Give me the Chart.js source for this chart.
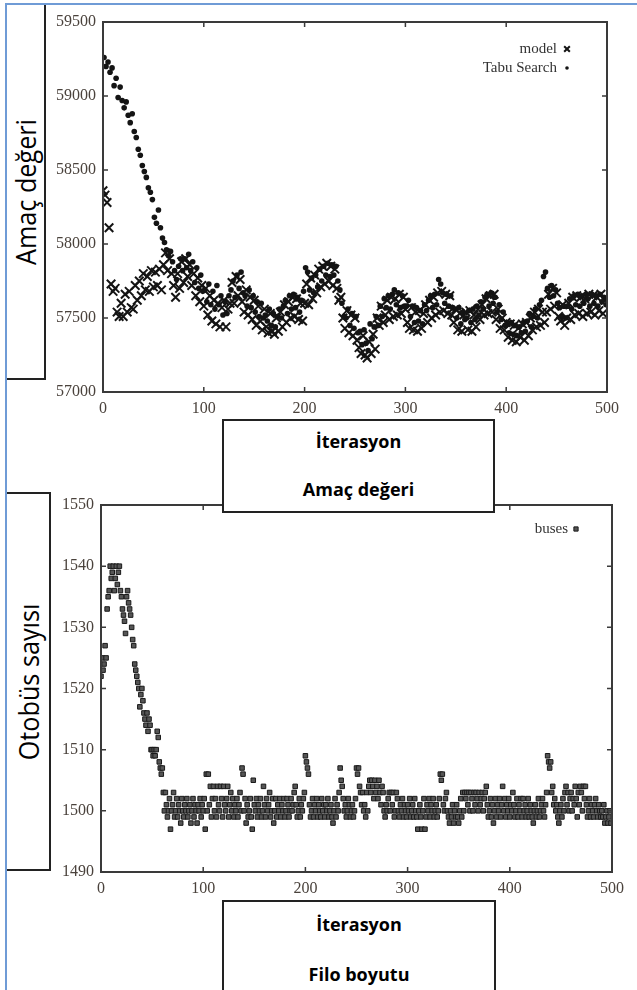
<!DOCTYPE html>
<html>
<head>
<meta charset="utf-8">
<script src="https://cdn.jsdelivr.net/npm/chart.js@4.4.1/dist/chart.umd.min.js"></script>
<style>
  html, body { margin: 0; padding: 0; background: #fff; }
  body { width: 637px; height: 990px; position: relative; overflow: hidden; }
  canvas { position: absolute; left: 0; }
  #objChart { top: 0; }
  #fleetChart { top: 480px; }
  .page-edge { position: absolute; left: 5px; top: 3px; width: 700px; height: 1100px;
    border-left: 2px solid #6f9bd6; border-top: 2px solid #6f9bd6; z-index: 5; pointer-events: none; }
  .box { position: absolute; background: #fff; border: 2px solid #222; box-sizing: border-box;
    z-index: 3; font-family: "Open Sans", sans-serif; color: #000; }
  .ybox { display: flex; align-items: center; justify-content: center; }
  .ybox span { transform: rotate(-90deg) scaleX(0.9); white-space: nowrap; font-size: 28px; }
  .xbox div { position: absolute; left: 0; right: 0; text-align: center; font-weight: 700;
    font-size: 18px; line-height: 24px; }
</style>
</head>
<body>
<canvas id="objChart" width="637" height="420"></canvas>
<canvas id="fleetChart" width="637" height="420"></canvas>

<div class="box ybox" style="left:5px; top:3px; width:41px; height:377px;"><span>Amaç değeri</span></div>
<div class="box xbox" style="left:222px; top:419px; width:273px; height:94px;">
  <div style="top:8px;">İterasyon</div>
  <div style="top:56px;">Amaç değeri</div>
</div>
<div class="box ybox" style="left:5px; top:492px; width:46px; height:379px;"><span>Otobüs sayısı</span></div>
<div class="box xbox" style="left:222px; top:900px; width:274px; height:110px;">
  <div style="top:10px;">İterasyon</div>
  <div style="top:60px;">Filo boyutu</div>
</div>
<div class="page-edge"></div>

<script>
// iteration axis, shared by both plots
const iterTicks = [0, 100, 200, 300, 400, 500];
const objTicks = [57000, 57500, 58000, 58500, 59000, 59500];
const busTicks = [1490, 1500, 1510, 1520, 1530, 1540, 1550];

// objective value, model (x), read at iterations 0, 2, 4 ... 498 (one row per 20 iterations)
const modelValues = [
  58360, 58330, 58280, 58110, 57730, 57680, 57700, 57540, 57510, 57600,
  57510, 57660, 57540, 57680, 57570, 57560, 57720, 57620, 57750, 57650,
  57800, 57690, 57780, 57680, 57820, 57710, 57810, 57720, 57830, 57690,
  57860, 57940, 57820, 57900, 57800, 57720, 57640, 57800, 57700, 57880,
  57740, 57900, 57780, 57860, 57720, 57800, 57650, 57770, 57610, 57720,
  57580, 57700, 57520, 57650, 57480, 57620, 57460, 57600, 57440, 57570,
  57620, 57440, 57560, 57600, 57740, 57600, 57780, 57650, 57760, 57610,
  57540, 57690, 57520, 57640, 57490, 57620, 57450, 57580, 57480, 57420,
  57560, 57440, 57400, 57530, 57410, 57390, 57500, 57410, 57540, 57440,
  57590, 57470, 57610, 57500, 57640, 57510, 57630, 57490, 57600, 57480,
  57600, 57730, 57590, 57770, 57630, 57790, 57670, 57830, 57710, 57850,
  57730, 57870, 57750, 57850, 57720, 57830, 57700, 57620, 57640, 57500,
  57430, 57550, 57400, 57520, 57380, 57500, 57350, 57300, 57260, 57380,
  57250, 57230, 57340, 57260, 57390, 57290, 57500, 57450, 57580, 57470,
  57520, 57620, 57490, 57640, 57510, 57630, 57520, 57660, 57530, 57640,
  57560, 57470, 57430, 57570, 57420, 57540, 57410, 57550, 57430, 57530,
  57590, 57470, 57620, 57500, 57640, 57520, 57670, 57540, 57680, 57550,
  57660, 57530, 57650, 57520, 57470, 57560, 57420, 57530, 57410, 57520,
  57540, 57420, 57550, 57410, 57520, 57440, 57560, 57490, 57590, 57520,
  57630, 57530, 57650, 57540, 57660, 57490, 57560, 57430, 57500, 57420,
  57470, 57370, 57460, 57350, 57450, 57340, 57430, 57370, 57460, 57350,
  57470, 57380, 57500, 57420, 57540, 57440, 57560, 57450, 57540, 57470,
  57540, 57660, 57560, 57700, 57580, 57670, 57510, 57480, 57590, 57450,
  57500, 57600, 57490, 57640, 57520, 57650, 57530, 57640, 57510, 57630,
  57530, 57660, 57540, 57650, 57520, 57640, 57550, 57660, 57530, 57620
];

// objective value, Tabu Search (dots), read at iterations 1, 3, 5 ... 499 (one row per 20 iterations)
const tabuValues = [
  59260, 59200, 59230, 59160, 59190, 59070, 59120, 58990, 59060, 58970,
  58920, 58960, 58870, 58820, 58880, 58760, 58720, 58640, 58600, 58530,
  58490, 58450, 58380, 58350, 58300, 58180, 58140, 58230, 58110, 58040,
  58010, 57960, 57920, 57950, 57880, 57820, 57760, 57850, 57900, 57820,
  57900, 57840, 57930, 57820, 57880, 57740, 57840, 57700, 57790, 57680,
  57690, 57610, 57730, 57590, 57680, 57560, 57720, 57590, 57650, 57520,
  57610, 57530, 57650, 57690, 57750, 57640, 57790, 57700, 57810, 57670,
  57650, 57580, 57690, 57570, 57650, 57540, 57610, 57510, 57600, 57500,
  57520, 57480, 57560, 57450, 57530, 57440, 57510, 57560, 57500, 57580,
  57620, 57530, 57650, 57560, 57660, 57570, 57640, 57540, 57620, 57680,
  57840, 57810, 57690, 57770, 57670, 57790, 57710, 57830, 57750, 57850,
  57790, 57870, 57780, 57860, 57790, 57850, 57750, 57690, 57600, 57510,
  57500, 57560, 57450, 57530, 57430, 57510, 57400, 57410, 57320, 57420,
  57330, 57280, 57460, 57360, 57440, 57510, 57450, 57580, 57510, 57630,
  57570, 57650, 57560, 57660, 57690, 57590, 57670, 57570, 57650, 57580,
  57580, 57620, 57510, 57580, 57470, 57570, 57480, 57550, 57460, 57590,
  57550, 57620, 57650, 57570, 57660, 57590, 57760, 57730, 57670, 57600,
  57660, 57580, 57650, 57570, 57560, 57500, 57570, 57460, 57540, 57490,
  57500, 57550, 57470, 57560, 57490, 57580, 57520, 57610, 57560, 57640,
  57660, 57580, 57670, 57600, 57640, 57540, 57590, 57490, 57540, 57450,
  57460, 57400, 57470, 57390, 57450, 57380, 57440, 57400, 57470, 57410,
  57480, 57530, 57440, 57510, 57560, 57500, 57590, 57620, 57780, 57810,
  57700, 57640, 57720, 57650, 57690, 57600, 57570, 57510, 57580, 57500,
  57580, 57630, 57560, 57650, 57590, 57660, 57580, 57650, 57600, 57660,
  57630, 57580, 57660, 57600, 57650, 57580, 57660, 57610, 57640, 57590
];

// fleet size (buses), read at every iteration 0 ... 499, one row per 10 iterations
const busValues = [
  1522, 1525, 1523, 1524, 1527, 1525, 1533, 1535, 1536, 1540,
  1538, 1539, 1540, 1536, 1538, 1540, 1537, 1539, 1540, 1536,
  1535, 1533, 1532, 1531, 1529, 1535, 1536, 1534, 1533, 1532,
  1530, 1528, 1527, 1524, 1523, 1522, 1521, 1520, 1517, 1519,
  1520, 1518, 1516, 1515, 1514, 1516, 1513, 1515, 1514, 1510,
  1510, 1509, 1510, 1509, 1510, 1513, 1512, 1508, 1507, 1506,
  1507, 1503, 1500, 1503, 1501, 1499, 1500, 1502, 1497, 1500,
  1501, 1503, 1499, 1500, 1502, 1499, 1501, 1500, 1498, 1502,
  1500, 1499, 1501, 1500, 1502, 1499, 1500, 1501, 1498, 1500,
  1502, 1499, 1501, 1500, 1498, 1501, 1500, 1502, 1499, 1501,
  1500, 1502, 1497, 1506, 1500, 1506, 1501, 1504, 1499, 1502,
  1504, 1500, 1502, 1499, 1504, 1501, 1500, 1504, 1502, 1499,
  1504, 1501, 1500, 1502, 1504, 1499, 1501, 1503, 1500, 1502,
  1499, 1501, 1500, 1502, 1499, 1501, 1503, 1500, 1507, 1506,
  1500, 1502, 1498, 1501, 1499, 1500, 1502, 1499, 1497, 1505,
  1501, 1500, 1502, 1499, 1501, 1500, 1502, 1499, 1500, 1504,
  1501, 1499, 1502, 1500, 1501, 1503, 1499, 1500, 1502, 1498,
  1500, 1502, 1499, 1501, 1500, 1502, 1499, 1501, 1500, 1502,
  1499, 1500, 1502, 1501, 1499, 1500, 1502, 1500, 1501, 1503,
  1504, 1501, 1499, 1500, 1502, 1499, 1501, 1500, 1502, 1503,
  1509, 1508, 1507, 1506, 1501, 1499, 1500, 1502, 1499, 1501,
  1500, 1502, 1499, 1501, 1500, 1499, 1502, 1500, 1501, 1499,
  1501, 1500, 1502, 1499, 1500, 1501, 1499, 1498, 1500, 1502,
  1499, 1501, 1500, 1503, 1507, 1505, 1504, 1502, 1500, 1501,
  1499, 1500, 1502, 1501, 1499, 1500, 1501, 1499, 1500, 1502,
  1507, 1506, 1507, 1504, 1503, 1501, 1503, 1500, 1501, 1499,
  1503, 1500, 1504, 1505, 1503, 1505, 1504, 1502, 1505, 1503,
  1504, 1502, 1505, 1503, 1501, 1504, 1503, 1500, 1499, 1501,
  1500, 1502, 1503, 1500, 1503, 1501, 1503, 1499, 1500, 1503,
  1502, 1500, 1499, 1501, 1500, 1502, 1499, 1501, 1500, 1499,
  1501, 1500, 1502, 1499, 1500, 1501, 1499, 1502, 1500, 1499,
  1497, 1500, 1501, 1499, 1497, 1500, 1502, 1497, 1499, 1501,
  1500, 1502, 1499, 1501, 1500, 1502, 1499, 1500, 1501, 1499,
  1500, 1502, 1506, 1505, 1506, 1501, 1500, 1502, 1503, 1500,
  1499, 1498, 1500, 1499, 1501, 1498, 1500, 1499, 1501, 1499,
  1498, 1500, 1502, 1499, 1503, 1500, 1503, 1502, 1503, 1501,
  1503, 1500, 1503, 1502, 1500, 1503, 1501, 1503, 1502, 1500,
  1503, 1501, 1502, 1503, 1500, 1502, 1503, 1504, 1501, 1499,
  1500, 1502, 1499, 1501, 1498, 1500, 1502, 1499, 1501, 1500,
  1502, 1499, 1501, 1504, 1500, 1502, 1499, 1501, 1500, 1502,
  1499, 1501, 1500, 1503, 1501, 1499, 1500, 1502, 1499, 1501,
  1500, 1502, 1499, 1502, 1500, 1501, 1499, 1500, 1502, 1499,
  1501, 1500, 1499, 1498, 1500, 1501, 1499, 1500, 1502, 1499,
  1500, 1501, 1502, 1500, 1499, 1501, 1503, 1509, 1508, 1507,
  1508, 1503, 1504, 1501, 1502, 1500, 1501, 1499, 1498, 1500,
  1501, 1499, 1502, 1500, 1503, 1504, 1501, 1503, 1500, 1502,
  1503, 1500, 1502, 1501, 1504, 1502, 1499, 1503, 1501, 1504,
  1503, 1500, 1504, 1502, 1504, 1501, 1499, 1500, 1502, 1499,
  1501, 1500, 1499, 1501, 1502, 1500, 1499, 1501, 1500, 1499,
  1500, 1499, 1501, 1498, 1499, 1500, 1498, 1499, 1500, 1498
];

const ink = '#141414';
const tickColor = '#4a423c';
const serif = '"Liberation Serif", "Times New Roman", serif';
const tickFont = { family: serif, size: 16 };
Chart.defaults.font.family = serif;

// gnuplot look: closed frame, inward ticks on all four sides, key inside top right
const gnuplotFrame = {
  id: 'gnuplotFrame',
  afterDatasetsDraw(chart, args, opts) {
    const { ctx, chartArea: a } = chart;
    const xs = chart.scales.x, ys = chart.scales.y;
    ctx.save();
    ctx.strokeStyle = '#3a3a3a';
    ctx.lineWidth = 2;
    ctx.strokeRect(a.left, a.top, a.right - a.left, a.bottom - a.top);
    ctx.lineWidth = 1.5;
    ctx.beginPath();
    xs.ticks.forEach(t => {
      const px = xs.getPixelForValue(t.value);
      ctx.moveTo(px, a.bottom); ctx.lineTo(px, a.bottom - 5);
      ctx.moveTo(px, a.top); ctx.lineTo(px, a.top + 5);
    });
    ys.ticks.forEach(t => {
      const py = ys.getPixelForValue(t.value);
      ctx.moveTo(a.left, py); ctx.lineTo(a.left + 5, py);
      ctx.moveTo(a.right, py); ctx.lineTo(a.right - 5, py);
    });
    ctx.stroke();

    ctx.font = '15px ' + serif;
    ctx.textAlign = 'right';
    ctx.textBaseline = 'middle';
    chart.data.datasets.forEach((ds, i) => {
      const y = a.top + opts.top + i * opts.rowGap;
      ctx.fillStyle = '#333';
      ctx.fillText(ds.label, a.right - opts.textRight, y);
      ctx.fillStyle = ds.backgroundColor;
      ctx.strokeStyle = ds.borderColor;
      ctx.lineWidth = ds.borderWidth;
      Chart.helpers.drawPoint(ctx, {
        pointStyle: ds.pointStyle, radius: ds.keyRadius, borderWidth: ds.borderWidth, rotation: 0
      }, a.right - opts.markRight, y);
    });
    ctx.restore();
  }
};

function listTicks(values) {
  return scale => { scale.ticks = values.map(v => ({ value: v })); };
}

function makeChart(id, datasets, yTicks, padding, yWidth, key) {
  return new Chart(document.getElementById(id), {
    type: 'scatter',
    data: { datasets: datasets },
    options: {
      responsive: false,
      animation: false,
      events: [],
      layout: { padding: padding },
      plugins: {
        legend: { display: false },
        tooltip: { enabled: false },
        gnuplotFrame: key
      },
      scales: {
        x: {
          type: 'linear',
          min: iterTicks[0],
          max: iterTicks[iterTicks.length - 1],
          afterBuildTicks: listTicks(iterTicks),
          grid: { display: false, drawTicks: false },
          border: { display: false },
          ticks: { padding: 7, color: tickColor, font: tickFont, maxRotation: 0, callback: v => String(v) },
          afterFit: s => { s.height = 28; }
        },
        y: {
          type: 'linear',
          min: yTicks[0],
          max: yTicks[yTicks.length - 1],
          afterBuildTicks: listTicks(yTicks),
          grid: { display: false, drawTicks: false },
          border: { display: false },
          ticks: { padding: 7, color: tickColor, font: tickFont, callback: v => String(v) },
          afterFit: s => { s.width = yWidth; }
        }
      }
    },
    plugins: [gnuplotFrame]
  });
}

makeChart('objChart', [
  {
    label: 'model',
    data: modelValues.map((v, i) => ({ x: i * 2, y: v })),
    pointStyle: 'crossRot',
    pointRadius: 6,
    keyRadius: 4,
    borderWidth: 2,
    borderColor: ink,
    backgroundColor: ink
  },
  {
    label: 'Tabu Search',
    data: tabuValues.map((v, i) => ({ x: i * 2 + 1, y: v })),
    pointStyle: 'circle',
    pointRadius: 2.8,
    keyRadius: 1.8,
    borderWidth: 0,
    borderColor: ink,
    backgroundColor: ink
  }
], objTicks, { top: 22, right: 30, left: 0, bottom: 0 }, 103,
  { top: 27, rowGap: 19, textRight: 50, markRight: 40 });

makeChart('fleetChart', [
  {
    label: 'buses',
    data: busValues.map((v, i) => ({ x: i, y: v })),
    pointStyle: 'rect',
    pointRadius: 3.2,
    keyRadius: 3,
    borderWidth: 1,
    borderColor: '#1a1a1a',
    backgroundColor: '#555'
  }
], busTicks, { top: 25, right: 25, left: 0, bottom: 0 }, 101,
  { top: 24, rowGap: 19, textRight: 44, markRight: 36 });
</script>
</body>
</html>
